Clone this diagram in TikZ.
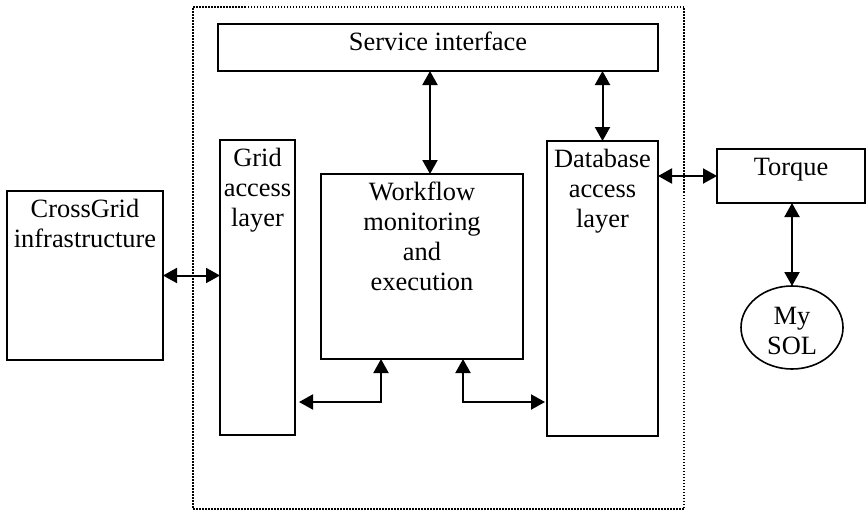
\documentclass[tikz,border=0pt]{standalone}
\usepackage{fontspec}
\setmainfont{Liberation Serif}
\usetikzlibrary{arrows.meta,shapes.geometric}
\begin{document}
\begin{tikzpicture}[x=1pt,y=-1pt,
  box/.style={draw, line width=1.6pt, inner sep=0pt, outer sep=0pt},
  lbl/.style={anchor=north, inner sep=0pt, align=center, font=\fontsize{26.4}{30}\selectfont},
  one/.style={anchor=base, inner sep=0pt, font=\fontsize{26.4}{30}\selectfont},
  biarr/.style={line width=2pt, {Triangle[length=14pt,width=15pt]}-{Triangle[length=14pt,width=15pt]}},
]
\useasboundingbox (0,0) rectangle (866,511);
% outer dotted frame
\node[draw, line width=1.5pt, dash pattern=on 1.5pt off 1.5pt, inner sep=0pt, outer sep=0pt,
      minimum width=491pt, minimum height=502pt] (outer) at (438.5,258) {};
% boxes
\node[box, minimum width=440pt, minimum height=47pt] (svc) at (438,47.5) {};
\node[box, minimum width=75pt, minimum height=295pt] (grid) at (257.5,287.5) {};
\node[box, minimum width=202pt, minimum height=185pt] (wf) at (422,266.5) {};
\node[box, minimum width=111pt, minimum height=295pt] (db) at (602.5,288.5) {};
\node[box, minimum width=148pt, minimum height=54pt] (tq) at (791,176) {};
\node[box, minimum width=156pt, minimum height=169pt] (cg) at (85,275.5) {};
\node[box, ellipse, minimum width=102pt, minimum height=83pt] (sql) at (792,327.5) {};
% labels
\node[one] (svct) at (438,51) {Service interface};
\node[one] (tqt) at (791,175) {Torque};
\node[lbl] (gridt) at ([yshift=-8pt]grid.north) {Grid\\access\\layer};
\node[lbl] (wft) at ([yshift=-8pt]wf.north) {Workflow\\monitoring\\and\\execution};
\node[lbl] (dbt) at ([yshift=-8pt]db.north) {Database\\access\\layer};
\node[lbl] (cgt) at ([yshift=-8pt]cg.north) {CrossGrid\\infrastructure};
\node[lbl] (sqlt) at (792,307) {My\\SOL};
% connector helpers
\coordinate (c1) at (430,0);
\coordinate (bl) at (381,402);
\coordinate (br) at (463,402);
% connectors
\draw[biarr] (svc.south -| c1) -- (wf.north -| c1);
\draw[biarr] (svc.south -| db.north) -- (db.north);
\draw[biarr] (db.east |- tq.west) -- (tq.west);
\draw[biarr] (tq.south -| sql.north) -- (sql.north);
\draw[biarr] (cg.east) -- (grid.west |- cg.east);
\draw[biarr, shorten <=4pt] (bl -| grid.east) -| (wf.south -| bl);
\draw[biarr, shorten >=2pt] (wf.south -| br) |- (db.west |- br);
\end{tikzpicture}
\end{document}
